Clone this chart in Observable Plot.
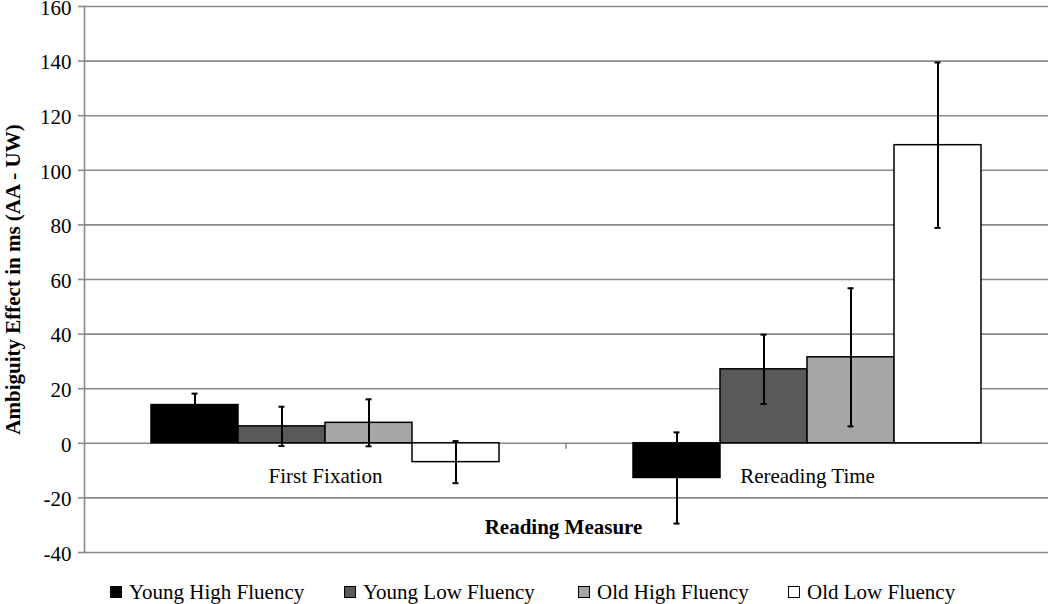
<!DOCTYPE html>
<html>
<head>
<meta charset="utf-8">
<script src="https://cdn.jsdelivr.net/npm/d3@7"></script>
<script src="https://cdn.jsdelivr.net/npm/@observablehq/plot@0.6"></script>
<style>
  html, body { margin: 0; padding: 0; background: #fff; }
  body { width: 1050px; height: 604px; overflow: hidden; font-family: "Liberation Serif", "Times New Roman", serif; }
  #chart svg { display: block; }
  #legend { position: relative; width: 1050px; height: 34px; }
  .item { position: absolute; top: 11px; height: 22px; display: flex; align-items: center; font-size: 21px; line-height: 22px; color: #000; white-space: nowrap; }
  .sw { width: 10px; height: 10px; border: 1px solid #000; margin-right: 7px; box-sizing: content-box; }
</style>
</head>
<body>
<div id="chart"></div>
<div id="legend"></div>
<script>
// ---- data ----
const categories = ["First Fixation", "Rereading Time"];
const series = ["Young High Fluency", "Young Low Fluency", "Old High Fluency", "Old Low Fluency"];
const firstFixation = [14.0, 6.2, 7.5, -6.9];
const rereadingTime = [-12.7, 27.1, 31.5, 109.2];
const firstFixationErr = [4.2, 7.2, 8.6, 7.7];
const rereadingTimeErr = [16.7, 12.7, 25.3, 30.3];
const seriesColors = ["#000000", "#595959", "#a6a6a6", "#ffffff"];
const yTicks = [-40, -20, 0, 20, 40, 60, 80, 100, 120, 140, 160];
const yTitle = "Ambiguity Effect in ms (AA - UW)";
const xTitle = "Reading Measure";

const values = [firstFixation, rereadingTime];
const errs = [firstFixationErr, rereadingTimeErr];
const rows = categories.flatMap((c, ci) => series.map((s, si) => ({
  category: c, series: s, value: values[ci][si], err: errs[ci][si]
})));

const font = "'Liberation Serif', 'Times New Roman', serif";
const gridColor = "#8a8a8a";

const chart = Plot.plot({
  width: 1050,
  height: 570,
  marginLeft: 83,
  marginRight: 2,
  marginTop: 6,
  marginBottom: 18,
  style: { fontFamily: font, fontSize: "21px", background: "#fff", color: "#000" },
  fx: { domain: categories, padding: 0, axis: null },
  x: { domain: series, paddingInner: 0, paddingOuter: 0.7415, axis: null },
  y: { domain: [-40, 160], axis: null },
  color: { domain: series, range: seriesColors },
  marks: [
    Plot.gridY(yTicks, { stroke: gridColor, strokeOpacity: 1, strokeWidth: 1.6 }),
    Plot.frame({ anchor: "left", facetAnchor: "left", stroke: gridColor, strokeWidth: 1.6 }),
    Plot.barY(rows, { fx: "category", x: "series", y: "value", fill: "series", stroke: "#000", strokeWidth: 1.5 }),
    Plot.ruleX(rows, { fx: "category", x: "series", y1: d => d.value - d.err, y2: d => d.value + d.err, stroke: "#000", strokeWidth: 2 }),
    Plot.tickY(rows, { fx: "category", x: "series", y: d => d.value + d.err, stroke: "#000", strokeWidth: 2, insetLeft: 40.5, insetRight: 40.5 }),
    Plot.tickY(rows, { fx: "category", x: "series", y: d => d.value - d.err, stroke: "#000", strokeWidth: 2, insetLeft: 40.5, insetRight: 40.5 }),
    // tick marks
    Plot.axisY({ ticks: yTicks, tickSize: 6, tickFormat: () => "", stroke: gridColor, strokeWidth: 1.6, label: null, facetAnchor: "left" }),
    // tick labels
    Plot.axisY({ ticks: yTicks, tickSize: 0, tickPadding: 13, tickFormat: d => String(d), fontSize: 21, label: null, facetAnchor: "left", dy: 1.5 }),
    Plot.text(categories, { fx: d => d, frameAnchor: "middle", y: () => 0, dy: 33, text: d => d, fontSize: 21, fill: "#000" }),
    Plot.text([xTitle], { fx: () => categories[1], frameAnchor: "bottom-left", textAnchor: "middle", dx: -3, dy: -19, text: d => d, fontSize: 21, fontWeight: "bold", fill: "#000" }),
    Plot.text([yTitle], { fx: () => categories[0], frameAnchor: "left", textAnchor: "middle", rotate: -90, dx: -71, text: d => d, fontSize: 21, fontWeight: "bold", fill: "#000" })
  ]
});
document.getElementById("chart").appendChild(chart);

// category-axis tick marks at the boundaries between categories, from the library's scales
try {
  const fxs = chart.scale("fx");
  const ys = chart.scale("y");
  const y0 = ys.apply(0);
  const svg = d3.select(chart);
  const bounds = categories.slice(1).map(c => fxs.apply(c));
  svg.append("g").selectAll("line").data(bounds).join("line")
    .attr("x1", d => d).attr("x2", d => d)
    .attr("y1", y0).attr("y2", y0 + 6)
    .attr("stroke", gridColor).attr("stroke-width", 1.6);
} catch (e) {}

// legend
const legendLefts = [110, 344, 578, 788];
const legend = d3.select("#legend");
series.forEach((s, i) => {
  const item = legend.append("div").attr("class", "item").style("left", legendLefts[i] + "px");
  item.append("div").attr("class", "sw").style("background", seriesColors[i]);
  item.append("span").text(s);
});
</script>
</body>
</html>
